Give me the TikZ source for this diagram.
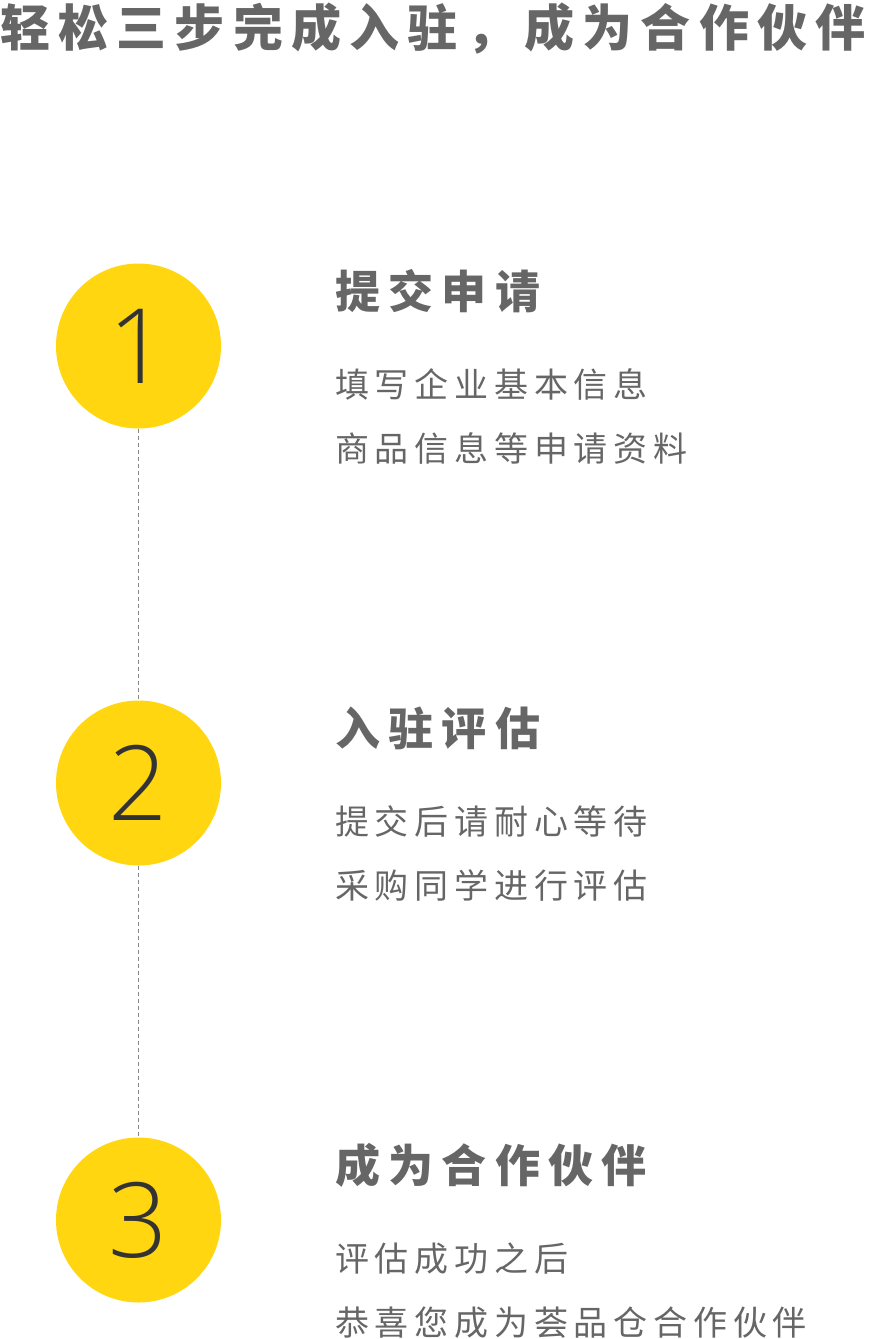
\documentclass[tikz,border=0pt]{standalone}
\usepackage{fontspec}
\newfontfamily\titlefont[LetterSpace=16.5]{Noto Sans CJK SC}
\newfontfamily\headfont[LetterSpace=18.5]{Noto Sans CJK SC}
\newfontfamily\descfont[LetterSpace=17]{Noto Sans CJK SC}
\IfFontExistsTF{Open Sans Light}{\newfontfamily\digitfont{Open Sans Light}}{%
  \IfFontExistsTF{Fira Sans Light}{\newfontfamily\digitfont{Fira Sans Light}}{%
    \IfFontExistsTF{Noto Sans CJK SC Light}{\newfontfamily\digitfont{Noto Sans CJK SC Light}}{%
      \newfontfamily\digitfont{Noto Sans CJK SC}}}}
\definecolor{stepyellow}{HTML}{FFD60F}
\definecolor{textgray}{HTML}{666666}
\definecolor{digitgray}{HTML}{333333}
\definecolor{linegray}{HTML}{888888}
\tikzset{
  stepcircle/.style={circle, fill=stepyellow, minimum size=165pt, inner sep=0pt,
    text=digitgray, font=\digitfont\fontsize{104}{104}\selectfont},
  titletext/.style={anchor=base west, inner sep=0pt, text=textgray,
    font=\titlefont\bfseries\fontsize{50}{54}\selectfont},
  headtext/.style={anchor=base west, inner sep=0pt, text=textgray,
    font=\headfont\bfseries\fontsize{45}{50}\selectfont},
  desctext/.style={anchor=base west, inner sep=0pt, text=textgray,
    font=\descfont\fontsize{34}{40}\selectfont},
  dashline/.style={draw=linegray, line width=0.8pt, dash pattern=on 4pt off 3pt}
}
\begin{document}
\begin{tikzpicture}[x=1pt,y=-1pt]
\useasboundingbox (0,0) rectangle (869,1339);
\node[titletext] (title) at (0,46) {轻松三步完成入驻，成为合作伙伴};

\node[stepcircle] (c1) at (138.5,346) {1};
\node[stepcircle] (c2) at (138.5,783) {2};
\node[stepcircle] (c3) at (138.5,1220) {3};

\draw[dashline] (c1.south) -- (c2.north);
\draw[dashline] (c2.south) -- (c3.north);

\node[headtext] (h1) at (335,308) {提交申请};
\node[desctext] (d1a) at (335,397) {填写企业基本信息};
\node[desctext] (d1b) at (335,461) {商品信息等申请资料};

\node[headtext] (h2) at (335,745) {入驻评估};
\node[desctext] (d2a) at (335,834) {提交后请耐心等待};
\node[desctext] (d2b) at (335,898) {采购同学进行评估};

\node[headtext] (h3) at (335,1182) {成为合作伙伴};
\node[desctext] (d3a) at (335,1271) {评估成功之后};
\node[desctext] (d3b) at (335,1335) {恭喜您成为荟品仓合作伙伴};
\end{tikzpicture}
\end{document}
